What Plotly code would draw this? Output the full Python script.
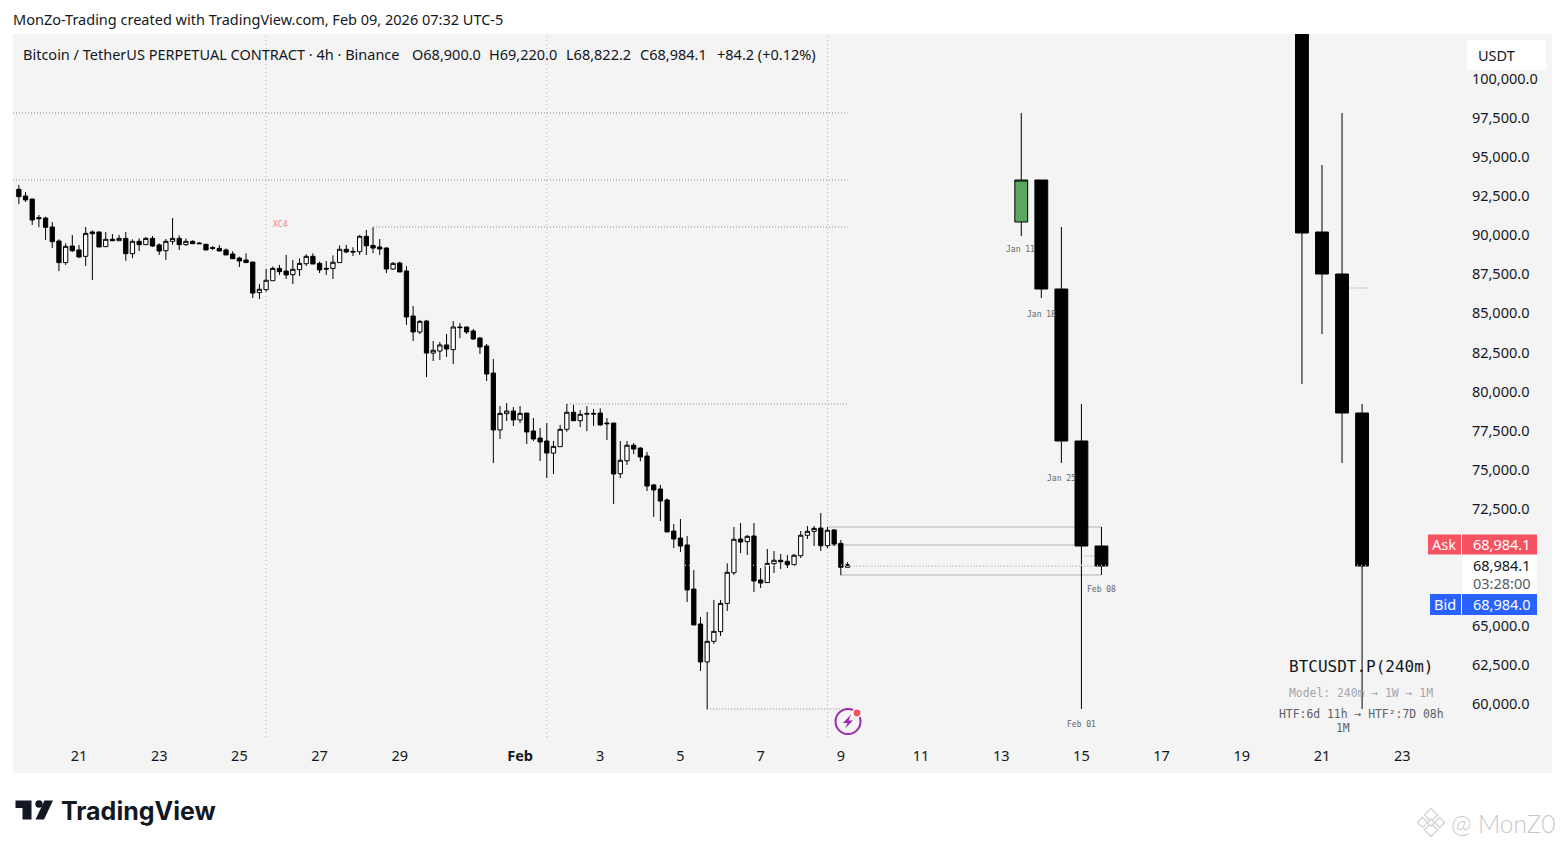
import pandas as pd
import plotly.graph_objects as go

# ---------- data ----------
candle_start = "2026-01-19 12:00"
high = [93220,92770,92320,91300,91190,90850,89740,89480,90020,89380,
        90530,90310,90230,90210,90080,90020,90210,89740,89800,89890,
        89950,89480,89760,91100,90000,89800,89680,89570,89440,89310,
        89380,89160,88970,88630,88840,88290,86880,87840,88000,88100,
        88740,88420,88520,88780,88840,88310,88350,88710,89350,89380,
        89230,90020,90340,90510,89760,89230,88290,88310,88030,85470,
        84580,84580,83230,83170,83680,84510,84380,84130,84000,83490,
        83040,82080,79070,79260,79010,79070,78620,78300,77660,77980,
        76830,77860,79200,79140,78820,79070,78880,78920,78300,77980,
        76830,76830,76700,76430,76130,74080,74020,73160,71520,71840,
        70750,68580,65570,65890,66660,66660,69000,71330,71580,70820,
        71580,68700,69920,69790,69600,69540,69600,71070,71390,71390,
        72220,71330,71200,70500,69070]
low = [92000,92130,90660,90510,89700,89180,87710,88100,88930,88540,
       88030,87140,89250,89270,89650,89650,88370,88540,88990,89380,
       89250,88740,88420,89400,89060,89310,89440,89440,89030,89060,
       88990,88740,88480,87970,88220,85980,85920,86390,87090,87460,
       87200,86880,87390,88030,88160,87580,87460,87200,88250,88860,
       88670,88740,88740,88860,88740,87580,87780,87650,84260,83230,
       83680,80930,81950,82020,82210,81760,83420,83680,83300,82400,
       80670,75420,76960,78110,77790,77980,76640,76830,75550,74460,
       74720,76470,77430,78130,77730,77470,77790,77790,76900,72800,
       74460,75300,76000,75530,73630,71970,71710,71010,69980,69730,
       66530,65060,62110,59660,63840,64350,65950,68260,69660,69540,
       67170,67420,67770,68380,68640,68700,68830,69340,70560,70110,
       69790,69980,70110,68240,68750]
open_ = [92940,92510,92320,91130,91100,90530,89630,88250,89310,89060,
         88650,90210,90210,89270,89740,89650,89800,88820,89610,89400,
         89800,89380,89010,89610,89800,89400,89610,89500,89420,89210,
         89160,89060,88800,88540,88420,88290,86330,86520,87090,87880,
         87710,87480,87800,88180,88650,88200,87880,87880,88250,89100,
         88970,88950,89930,89350,89250,89180,87840,88220,87710,84830,
         83810,84510,82460,82590,82980,82680,84130,84130,83870,83420,
         82910,81180,77540,78580,78750,78180,78620,77470,77020,76830,
         76060,76470,77580,78670,78130,78600,78600,78620,77980,77980,
         74740,75570,76560,76380,75870,74020,73760,73060,71070,70620,
         70180,67360,65120,62690,64010,64630,66440,68400,70560,70390,
         70750,67940,67770,68980,69200,69130,68920,69490,70800,71050,
         71260,70130,71140,70280,68750]
close = [92470,92260,90980,91060,90510,89590,88250,89290,89010,88610,
         90120,90100,89250,89740,89650,89800,88820,89610,89400,89800,
         89310,88990,89610,89800,89400,89610,89460,89460,89060,89160,
         88990,88740,88500,88350,88250,86300,86540,87120,87880,87670,
         87460,87820,88200,88650,88160,87780,87840,88270,89100,88930,
         88930,89930,89330,89180,89120,87840,88200,87650,84770,83810,
         84490,82460,82640,82980,82720,84130,84090,83810,83360,82850,
         81120,77540,78600,78750,78180,78600,77410,76960,76770,76060,
         76490,77580,78670,78130,78540,78560,78560,77860,77940,74720,
         75600,76560,76320,75810,73950,73700,72990,71010,70560,70110,
         67300,65060,62690,64010,64650,66440,68430,70540,70370,70730,
         67870,67740,69000,69200,69110,68900,69520,70800,71050,71240,
         70130,71120,70240,68750,68920]

htf_dates = ["2026-02-14 00:00","2026-02-14 12:00","2026-02-15 00:00","2026-02-15 12:00",
             "2026-02-20 12:00","2026-02-21 00:00","2026-02-21 12:00","2026-02-22 00:00"]
htf_open  = [93536,86560,76832,70112,108000,90208,87520,78624]
htf_high  = [93536,90528,79200,71328,110000,94496,97824,79200]
htf_low   = [85984,75424,59680,68256,80480,83680,75424,59680]
htf_close = [86560,76832,70112,68832,90144,87520,78624,68832]
green_date = ["2026-02-13 12:00"]
green_open, green_high, green_low, green_close = [90848],[97824],[89952],[93536]

price_ticks = [60000,62500,65000,72500,75000,77500,80000,82500,85000,87500,90000,92500,95000,97500,100000]
time_tickvals = ["2026-01-21","2026-01-23","2026-01-25","2026-01-27","2026-01-29","2026-02-01","2026-02-03",
                 "2026-02-05","2026-02-07","2026-02-09","2026-02-11","2026-02-13","2026-02-15","2026-02-17",
                 "2026-02-19","2026-02-21","2026-02-23"]
time_ticktext = ["21","23","25","27","29","<b>Feb</b>","3","5","7","9","11","13","15","17","19","21","23"]

grid_dates = ["2026-01-25 16:00","2026-02-01 16:00","2026-02-08 16:00"]
X_RANGE = ["2026-01-19 08:30","2026-02-24 13:00"]
# level, start, end
dotted_levels = [(97824,X_RANGE[0],"2026-02-09 04:00"),(93536,X_RANGE[0],"2026-02-09 04:00"),
                 (90528,"2026-01-28 08:00","2026-02-09 04:00"),(79200,"2026-02-02 04:00","2026-02-09 04:00"),
                 (59680,"2026-02-05 16:00","2026-02-09 00:00"),(68832,"2026-02-09 04:00","2026-02-15 12:00"),
                 (69472,"2026-02-15 00:00","2026-02-15 08:00"),(86624,"2026-02-21 16:00","2026-02-22 04:00")]
solid_levels = [(71328,"2026-02-08 16:00","2026-02-15 12:00"),(70176,"2026-02-08 16:00","2026-02-15 00:00"),
                (68256,"2026-02-09 00:00","2026-02-15 12:00")]
last_line = 68880

FONT = "Noto Sans"
INK = "#131722"
W, H = 1564, 848
L, R, T, B = 13, 1464, 34, 737

def px(x): return (x - L) / (R - L)
def py(y): return (B - y) / (B - T)

dates = pd.date_range(candle_start, periods=len(close), freq="4h")
fig = go.Figure()
black = dict(line=dict(color="#000000", width=1), fillcolor="#000000")
white = dict(line=dict(color="#000000", width=1), fillcolor="#ffffff")
fig.add_trace(go.Candlestick(x=dates, open=open_, high=high, low=low, close=close,
                             increasing=white, decreasing=black, whiskerwidth=0, hoverinfo="skip", showlegend=False))
fig.add_trace(go.Candlestick(x=htf_dates, open=htf_open, high=htf_high, low=htf_low, close=htf_close, xaxis="x2",
                             increasing=black, decreasing=black, whiskerwidth=0, hoverinfo="skip", showlegend=False))
fig.add_trace(go.Candlestick(x=green_date, open=green_open, high=green_high, low=green_low, close=green_close, xaxis="x2",
                             increasing=dict(line=dict(color="#000000", width=1), fillcolor="#5aa85f"),
                             decreasing=black, whiskerwidth=0, hoverinfo="skip", showlegend=False))

shapes = []
def rect(x0, y0, x1, y1, fill, layer="above"):
    shapes.append(dict(type="rect", xref="paper", yref="paper", x0=px(x0), x1=px(x1), y0=py(y1), y1=py(y0),
                       fillcolor=fill, line=dict(width=0), layer=layer))
def path(pts, fill=None, stroke=None, sw=1, layer="above"):
    d = "M" + " L".join(f"{px(a):.6f},{py(b):.6f}" for a, b in pts) + " Z"
    shapes.append(dict(type="path", xref="paper", yref="paper", path=d, fillcolor=fill or "rgba(0,0,0,0)",
                       line=dict(color=stroke or "rgba(0,0,0,0)", width=sw if stroke else 0), layer=layer))
def circle(cx, cy, r, fill=None, stroke=None, sw=1, layer="above"):
    shapes.append(dict(type="circle", xref="paper", yref="paper", x0=px(cx-r), x1=px(cx+r), y0=py(cy+r), y1=py(cy-r),
                       fillcolor=fill or "rgba(0,0,0,0)", line=dict(color=stroke or "rgba(0,0,0,0)", width=sw if stroke else 0), layer=layer))

rect(13, 34, 1552, 773, "#f4f4f4", layer="below")
for d in grid_dates:
    shapes.append(dict(type="line", xref="x", yref="paper", x0=d, x1=d, y0=0, y1=1,
                       line=dict(color="#b8b8b8", width=1, dash="1px,3px"), layer="below"))
for lv, a, b in dotted_levels:
    shapes.append(dict(type="line", xref="x", yref="y", x0=a, x1=b, y0=lv, y1=lv,
                       line=dict(color="#8c8c8c", width=1, dash="1px,2px"), layer="below"))
for lv, a, b in solid_levels:
    shapes.append(dict(type="line", xref="x", yref="y", x0=a, x1=b, y0=lv, y1=lv,
                       line=dict(color="#b4b4b4", width=1), layer="below"))
shapes.append(dict(type="line", xref="paper", yref="y", x0=0, x1=1, y0=last_line, y1=last_line,
                   line=dict(color="#ffffff", width=1, dash="1px,3px"), layer="above"))

# price-axis tags
rect(1467, 40, 1546, 70, "#ffffff")
rect(1428, 534.5, 1461, 554.5, "#f7525f")
rect(1462, 534.5, 1537, 554.5, "#f7525f")
rect(1462, 555, 1537, 594, "#ffffff")
rect(1430, 594, 1461, 615, "#2962ff")
rect(1462, 594, 1537, 615, "#2962ff")

# logo
path([(15.5,800.5),(31.5,800.5),(31.5,819.5),(22.5,819.5),(22.5,808),(15.5,808)], fill="#131722")
circle(39, 804, 3.7, fill="#131722")
path([(44.5,800.5),(53,800.5),(44,819.5),(35.5,819.5)], fill="#131722")

# lightning icon
circle(848, 721.5, 12.5, fill="#f4f4f4", stroke="#9c27b0", sw=2)
path([(851,714.5),(843,723),(847.5,723),(845,728.5),(853,720.5),(848.5,720.5)], fill="#9c27b0")
circle(857, 713, 5, fill="#ffffff")
circle(857, 713, 3.4, fill="#f7525f")

# watermark diamonds
WM = "#d4d4d4"
for cx, cy, r in [(1431,815,6.5),(1431,830,6.5),(1422.5,822.5,5),(1439.5,822.5,5),(1431,822.5,3.5)]:
    path([(cx,cy-r),(cx+r,cy),(cx,cy+r),(cx-r,cy)], fill="#ffffff", stroke=WM, sw=1.4)

anns = []
def text(x, y, s, size=14.5, color=INK, anchor="left", family=FONT, **font):
    anns.append(dict(xref="paper", yref="paper", x=px(x), y=py(y), text=s, showarrow=False, xanchor=anchor, yanchor="middle",
                     font=dict(family=family, size=size, color=color, **font), borderpad=0, borderwidth=0))

text(13, 19, "MonZo-Trading created with TradingView.com, Feb 09, 2026 07:32 UTC-5")
text(23, 53.5, "Bitcoin / TetherUS PERPETUAL CONTRACT · 4h · Binance")
text(412, 53.5, "O68,900.0")
text(489, 53.5, "H69,220.0")
text(566, 53.5, "L68,822.2")
text(640, 53.5, "C68,984.1")
text(717, 53.5, "+84.2 (+0.12%)")
text(1478, 55, "USDT")
text(1444, 544, "Ask", color="#ffffff", anchor="center")
text(1473, 543.5, "68,984.1", color="#ffffff")
text(1473, 564.5, "68,984.1")
text(1473, 582.5, "03:28:00", color="#555a66")
text(1445, 604, "Bid", color="#ffffff", anchor="center")
text(1473, 603.5, "68,984.0", color="#ffffff")

MONO = "DejaVu Sans Mono"
text(1361, 666, "BTCUSDT.P(240m)", size=16, anchor="center", family=MONO)
text(1361, 693, "Model: 240m → 1W → 1M", size=11.4, color="#a3a6ad", anchor="center", family=MONO)
text(1361, 714, "HTF:6d 11h → HTF²:7D 08h", size=11.4, color="#5d606b", anchor="center", family=MONO)
text(1343, 728, "1M", size=11.4, color="#5d606b", anchor="center", family=MONO)
for x, y, s in [(1021,250,"Jan 11"),(1041,314,"Jan 18"),(1061,478,"Jan 25"),(1081,724,"Feb 01"),(1101,589,"Feb 08")]:
    text(x, y, s, size=8, color="#666666", anchor="center", family=MONO)
text(280, 224, "XC4", size=8, color="#f77c80", anchor="center", family=MONO)

text(61, 811, "TradingView", size=25, color="#131722", family="Inter", weight=700)
text(1451, 823, "@ MonZ0", size=24.5, color="#c9c9c9", family="Lato", weight=300)

xaxis_common = dict(type="date", range=X_RANGE, rangeslider=dict(visible=False), showgrid=False, zeroline=False, showline=False)
fig.update_layout(
    width=W, height=H, autosize=False,
    margin=dict(l=L, r=W-R, t=T, b=H-B, pad=0),
    paper_bgcolor="#ffffff", plot_bgcolor="rgba(0,0,0,0)",
    boxgap=0.36, boxgroupgap=0,
    showlegend=False, shapes=shapes, annotations=anns,
    font=dict(family=FONT, size=14.5, color=INK),
    xaxis=dict(**xaxis_common, tickmode="array", tickvals=time_tickvals, ticktext=time_ticktext,
               ticks="outside", ticklen=6, tickcolor="rgba(0,0,0,0)", tickangle=0,
               tickfont=dict(family=FONT, size=14.5, color=INK)),
    xaxis2=dict(**xaxis_common, overlaying="x", anchor="y", visible=False),
    yaxis=dict(side="right", range=[57888, 102880], autorange=False, tickmode="array", tickvals=price_ticks,
               tickformat=",.1f", showgrid=False, zeroline=False, showline=False,
               ticks="outside", ticklen=4, tickcolor="rgba(0,0,0,0)", tickfont=dict(family=FONT, size=14.5, color=INK)),
)
fig.write_html("out.html", config={"displayModeBar": False}, post_script="document.body.style.margin='0';")
